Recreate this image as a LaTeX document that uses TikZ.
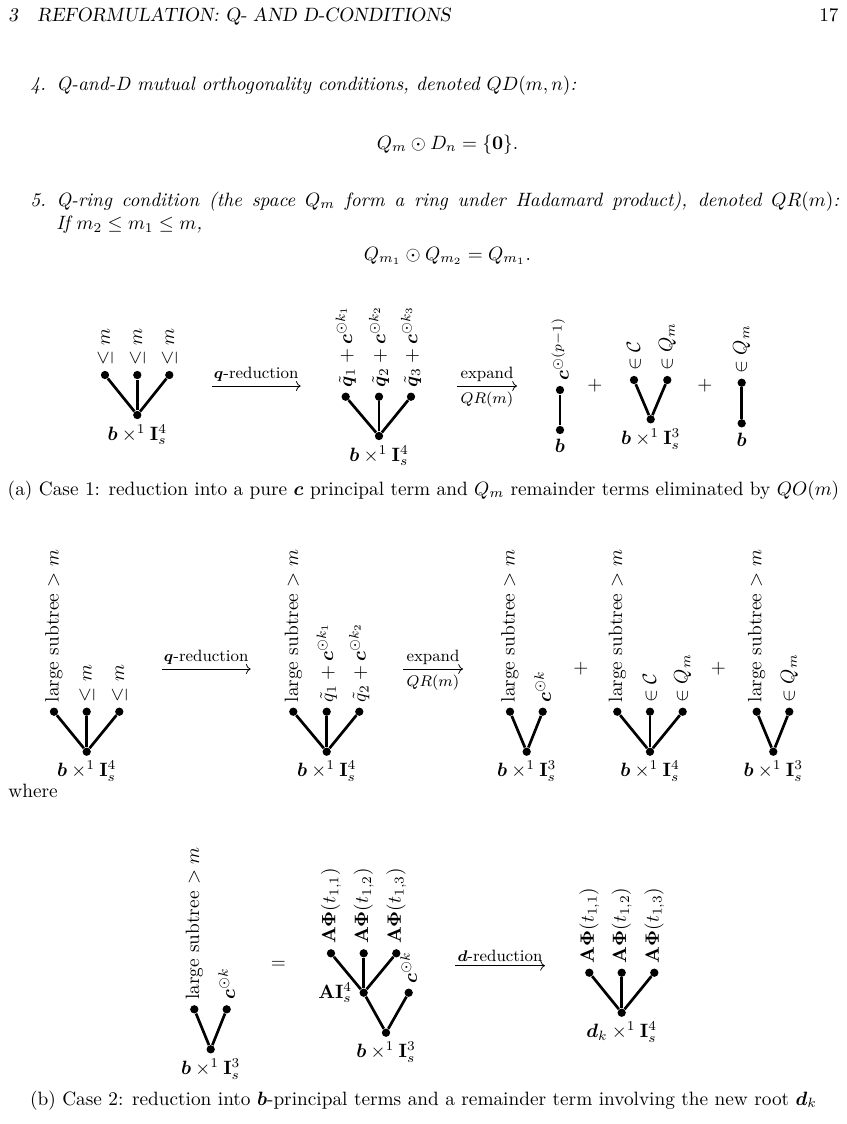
\documentclass[tikz,border=0pt]{standalone}
\usepackage{amsmath,amssymb,bm}
\usetikzlibrary{arrows.meta}
\newcommand\Lf[4]{\node[dot] (#1) at (#2,#3) {};\node[lab] (#1t) at ([yshift=4.7pt]#1.center) {#4};}
\newcommand\Rt[4]{\node[dot] (#1) at (#2,#3) {};\node[rootlab] (#1b) at ([yshift=-4.7pt]#1.center) {#4};}
\newcommand\bI[1]{$\boldsymbol b\times^1\mathbf I_s^{#1}$}
\begin{document}
\begin{tikzpicture}[x=0.5181pt,y=-0.5181pt,
  dot/.style={circle,fill=black,inner sep=0pt,minimum size=4.3pt},
  edge/.style={line width=1.4pt},
  lab/.style={rotate=90,anchor=west,inner sep=0pt},
  rootlab/.style={anchor=north,inner sep=0pt},
  arr/.style={line width=0.4pt,-{Computer Modern Rightarrow}},
  arrlab/.style={font=\fontsize{8.5}{10}\selectfont,inner sep=0pt},
  txt/.style={anchor=base west,inner sep=0pt},
  itemlab/.style={anchor=base east,inner sep=0pt,font=\itshape},
  ctxt/.style={anchor=base,inner sep=0pt}]
\useasboundingbox (0,0) rectangle (847,1124);
% ---------- page text ----------
\node[txt] (hd) at (8,21.7) {\slshape 3\hspace{1em}REFORMULATION: Q- AND D-CONDITIONS};
\node[anchor=base east,inner sep=0pt] (pg) at (839,21.7) {17};
\node[itemlab] (i4) at (46.5,90.7) {4.};
\node[txt] (i4b) at (56,90.7) {\itshape Q-and-D mutual orthogonality conditions, denoted $QD(m,n)$:};
\node[ctxt] (f1) at (447.5,149) {$Q_m\odot D_n=\{\mathbf 0\}.$};
\node[itemlab] (i5) at (46.5,206) {5.};
\node[txt] (i5b) at (56,206) {\makebox[405.6pt][s]{\itshape Q-ring condition (the space $Q_m$ form a ring under Hadamard product), denoted $QR(m)$:}};
\node[txt] (i5c) at (56,229.5) {\itshape If $m_2\le m_1\le m$,};
\node[ctxt] (f2) at (447.5,260) {$Q_{m_1}\odot Q_{m_2}=Q_{m_1}.$};
% ---------- case 1 ----------
\Rt{ra}{137.3}{415}{\bI4}
\Lf{la1}{105}{375}{$\le m$}
\Lf{la2}{137.3}{375}{$\le m$}
\Lf{la3}{169.3}{375}{$\le m$}
\foreach \l in {la1,la2,la3} \draw[edge] (ra) -- (\l);
\coordinate (a1s) at (211.7,386); \coordinate (a1e) at (300.7,386);
\draw[arr] (a1s) -- node[arrlab,above=2pt] {$\boldsymbol q$-reduction} (a1e);
\Rt{rb}{379}{436}{\bI4}
\Lf{lb1}{345.7}{396.7}{$\tilde{\boldsymbol q}_1+\boldsymbol c^{\odot k_1}$}
\Lf{lb2}{379}{396.7}{$\tilde{\boldsymbol q}_2+\boldsymbol c^{\odot k_2}$}
\Lf{lb3}{411}{396.7}{$\tilde{\boldsymbol q}_3+\boldsymbol c^{\odot k_3}$}
\foreach \l in {lb1,lb2,lb3} \draw[edge] (rb) -- (\l);
\coordinate (a2s) at (457,386); \coordinate (a2e) at (517,386);
\draw[arr] (a2s) -- node[arrlab,above=2pt] {expand} node[arrlab,below=3pt] {$QR(m)$} (a2e);
\Rt{rc}{560}{430}{$\boldsymbol b$}
\Lf{lc1}{560}{390}{$\boldsymbol c^{\odot(p-1)}$}
\draw[edge] (rc) -- (lc1);
\node (pl1) at (595,386) {$+$};
\Rt{rd}{650.7}{419.3}{\bI3}
\Lf{ld1}{634}{380}{$\in\mathcal C$}
\Lf{ld2}{667.3}{380}{$\in Q_m$}
\foreach \l in {ld1,ld2} \draw[edge] (rd) -- (\l);
\node (pl2) at (705,386) {$+$};
\Rt{re}{741.7}{423.3}{$\boldsymbol b$}
\Lf{le1}{741.7}{382.7}{$\in Q_m$}
\draw[edge] (re) -- (le1);
\node[ctxt] (capa) at (423.5,495) {(a) Case 1: reduction into a pure $\boldsymbol c$ principal term and $Q_m$ remainder terms eliminated by $QO(m)$};
% ---------- case 2 ----------
\Rt{rA}{86.7}{751.7}{\bI4}
\Lf{lA1}{54}{711.7}{large subtree $>m$}
\Lf{lA2}{86.7}{711.7}{$\le m$}
\Lf{lA3}{119.3}{711.7}{$\le m$}
\foreach \l in {lA1,lA2,lA3} \draw[edge] (rA) -- (\l);
\coordinate (a3s) at (161.7,669); \coordinate (a3e) at (250.7,669);
\draw[arr] (a3s) -- node[arrlab,above=2pt] {$\boldsymbol q$-reduction} (a3e);
\Rt{rB}{326.7}{751.7}{\bI4}
\Lf{lB1}{293.3}{711.7}{large subtree $>m$}
\Lf{lB2}{326.7}{711.7}{$\tilde q_1+\boldsymbol c^{\odot k_1}$}
\Lf{lB3}{359.3}{711.7}{$\tilde q_2+\boldsymbol c^{\odot k_2}$}
\foreach \l in {lB1,lB2,lB3} \draw[edge] (rB) -- (\l);
\coordinate (a4s) at (403,669); \coordinate (a4e) at (463,669);
\draw[arr] (a4s) -- node[arrlab,above=2pt] {expand} node[arrlab,below=3pt] {$QR(m)$} (a4e);
\Rt{rC}{526.7}{751.7}{\bI3}
\Lf{lC1}{510}{711.7}{large subtree $>m$}
\Lf{lC2}{542.7}{711.7}{$\boldsymbol c^{\odot k}$}
\foreach \l in {lC1,lC2} \draw[edge] (rC) -- (\l);
\node (pl3) at (581,669) {$+$};
\Rt{rD}{650}{751.7}{\bI4}
\Lf{lD1}{617.3}{711.7}{large subtree $>m$}
\Lf{lD2}{650}{711.7}{$\in\mathcal C$}
\Lf{lD3}{682.7}{711.7}{$\in Q_m$}
\foreach \l in {lD1,lD2,lD3} \draw[edge] (rD) -- (\l);
\node (pl4) at (718.3,669) {$+$};
\Rt{rE}{773.3}{751.7}{\bI3}
\Lf{lE1}{756.7}{711.7}{large subtree $>m$}
\Lf{lE2}{789.3}{711.7}{$\in Q_m$}
\foreach \l in {lE1,lE2} \draw[edge] (rE) -- (\l);
\node[txt] (wh) at (8,797) {where};
% ---------- bottom ----------
\Rt{rF}{210.7}{1049.3}{\bI3}
\Lf{lF1}{194.3}{1009.3}{large subtree $>m$}
\Lf{lF2}{226.7}{1009.3}{$\boldsymbol c^{\odot k}$}
\foreach \l in {lF1,lF2} \draw[edge] (rF) -- (\l);
\node (eq) at (278.3,965) {$=$};
\Rt{rG}{386}{1032.7}{\bI3}
\node[dot] (mG) at (363.7,992.7) {};
\node[anchor=east,inner sep=0pt] (mGl) at ([xshift=-5.8pt]mG.center) {$\mathbf A\mathbf I_s^4$};
\Lf{lG1}{331}{953.3}{$\mathbf A\boldsymbol\Phi(t_{1,1})$}
\Lf{lG2}{363.7}{953.3}{$\mathbf A\boldsymbol\Phi(t_{1,2})$}
\Lf{lG3}{396.3}{953.3}{$\mathbf A\boldsymbol\Phi(t_{1,3})$}
\Lf{lG4}{408.7}{992.7}{$\boldsymbol c^{\odot k}$}
\foreach \l in {lG1,lG2,lG3} \draw[edge] (mG) -- (\l);
\draw[edge] (rG) -- (mG);
\draw[edge] (rG) -- (lG4);
\coordinate (a5s) at (455,965.7); \coordinate (a5e) at (545,965.7);
\draw[arr] (a5s) -- node[arrlab,above=2pt] {$\boldsymbol d$-reduction} (a5e);
\Rt{rH}{621.7}{1012.7}{$\boldsymbol d_k\times^1\mathbf I_s^4$}
\Lf{lH1}{589.3}{972.7}{$\mathbf A\boldsymbol\Phi(t_{1,1})$}
\Lf{lH2}{621.7}{972.7}{$\mathbf A\boldsymbol\Phi(t_{1,2})$}
\Lf{lH3}{654.3}{972.7}{$\mathbf A\boldsymbol\Phi(t_{1,3})$}
\foreach \l in {lH1,lH2,lH3} \draw[edge] (rH) -- (\l);
\node[ctxt] (capb) at (423.5,1105) {(b) Case 2: reduction into $\boldsymbol b$-principal terms and a remainder term involving the new root $\boldsymbol d_k$};
\end{tikzpicture}
\end{document}
